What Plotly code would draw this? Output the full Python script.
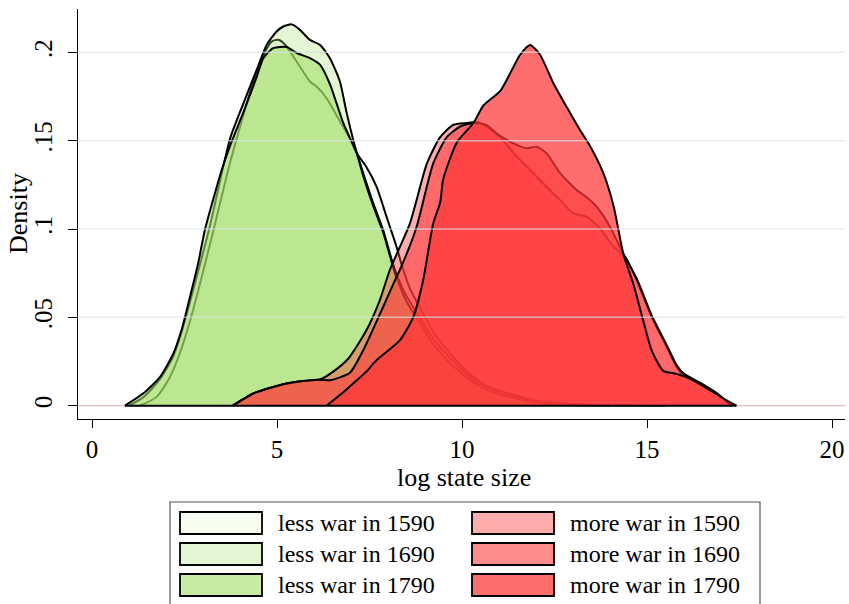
import plotly.graph_objects as go

# ---------------- data ----------------
less_1590_x = [1.3, 1.75, 2.1, 2.38, 2.65, 2.87, 3.1, 3.28, 3.7, 4.1, 4.4, 4.68, 4.86, 5.04, 5.22, 5.53, 5.89, 6.07, 6.34, 6.7, 7.0, 7.15, 7.42, 7.69, 7.96, 8.23, 8.41, 8.6, 8.9, 9.25, 9.7, 10.15, 10.7, 11.5, 12.1, 13.0, 14.0, 15.5]
less_1590_y = [0, 0.005, 0.016, 0.030, 0.048, 0.065, 0.084, 0.099, 0.135, 0.165, 0.186, 0.2005, 0.2062, 0.2071, 0.2043, 0.1948, 0.1835, 0.1806, 0.174, 0.161, 0.150, 0.143, 0.135, 0.124, 0.107, 0.090, 0.077, 0.066, 0.054, 0.041, 0.029, 0.019, 0.011, 0.0055, 0.0025, 0.001, 0.0003, 0]

less_1690_x = [1.0, 1.4, 1.84, 2.2, 2.47, 2.92, 3.19, 3.73, 4.09, 4.45, 4.72, 4.99, 5.17, 5.4, 5.62, 5.89, 6.16, 6.43, 6.7, 6.88, 7.11, 7.33, 7.6, 7.87, 8.05, 8.19, 8.5, 8.86, 9.22, 9.68, 10.13, 10.67, 11.48, 12.1, 13.0, 14.0]
less_1690_y = [0, 0.005, 0.015, 0.028, 0.045, 0.080, 0.102, 0.151, 0.171, 0.190, 0.2042, 0.2118, 0.2146, 0.2158, 0.2127, 0.207, 0.2042, 0.1967, 0.1835, 0.166, 0.1466, 0.1316, 0.1146, 0.0994, 0.0862, 0.0768, 0.062, 0.050, 0.038, 0.027, 0.018, 0.0105, 0.005, 0.002, 0.0008, 0]

less_1790_x = [0.89, 1.39, 1.84, 2.2, 2.42, 2.65, 2.87, 3.05, 3.5, 3.73, 4.09, 4.45, 4.63, 4.9, 5.26, 5.53, 5.89, 6.16, 6.43, 6.79, 7.15, 7.33, 7.6, 7.87, 8.05, 8.19, 8.5, 8.86, 9.22, 9.68, 10.13, 10.67, 11.48, 12.1, 13.0, 13.8]
less_1790_y = [0, 0.007, 0.0163, 0.0296, 0.0428, 0.0617, 0.0806, 0.0994, 0.133, 0.147, 0.166, 0.186, 0.1967, 0.2024, 0.203, 0.1996, 0.1967, 0.193, 0.182, 0.160, 0.143, 0.130, 0.113, 0.098, 0.085, 0.075, 0.059, 0.047, 0.035, 0.024, 0.016, 0.009, 0.004, 0.0015, 0.0005, 0]

more_1590_x = [3.8, 4.36, 4.8, 5.26, 5.7, 6.16, 6.5, 6.93, 7.42, 7.78, 8.05, 8.59, 9.05, 9.41, 9.77, 10.13, 10.4, 10.58, 11.03, 11.48, 12.02, 12.47, 12.65, 13.0, 13.37, 13.73, 14.09, 14.41, 14.72, 15.13, 15.54, 15.8, 15.94, 16.43, 16.89, 17.24]
more_1590_y = [0, 0.0069, 0.010, 0.0126, 0.014, 0.0148, 0.019, 0.0267, 0.0428, 0.0598, 0.0768, 0.103, 0.137, 0.152, 0.159, 0.160, 0.1605, 0.159, 0.152, 0.141, 0.1296, 0.120, 0.1164, 0.109, 0.107, 0.1004, 0.090, 0.0843, 0.071, 0.050, 0.033, 0.022, 0.018, 0.0126, 0.0069, 0]

more_1690_x = [3.8, 4.36, 4.8, 5.26, 5.7, 6.16, 6.43, 6.97, 7.33, 7.87, 8.19, 8.32, 8.77, 9.22, 9.59, 9.95, 10.31, 10.66, 10.94, 11.39, 11.75, 12.02, 12.29, 12.65, 13.1, 13.37, 13.64, 14.0, 14.36, 14.72, 15.13, 15.54, 15.8, 16.0, 16.43, 16.89, 17.3]
more_1690_y = [0, 0.0069, 0.010, 0.0126, 0.014, 0.0147, 0.0144, 0.0186, 0.0314, 0.056, 0.0711, 0.0768, 0.101, 0.137, 0.152, 0.158, 0.160, 0.1589, 0.154, 0.1485, 0.1457, 0.1466, 0.1428, 0.1316, 0.122, 0.118, 0.1126, 0.1013, 0.086, 0.072, 0.051, 0.034, 0.023, 0.018, 0.013, 0.007, 0]

more_1790_x = [6.34, 6.7, 7.06, 7.4, 7.69, 8.32, 8.68, 8.95, 9.22, 9.41, 9.49, 9.86, 10.31, 10.58, 11.03, 11.3, 11.57, 11.84, 12.11, 12.47, 12.83, 13.19, 13.46, 13.82, 14.1, 14.36, 14.63, 14.9, 15.13, 15.44, 15.8, 16.25, 16.7, 17.15, 17.42]
more_1790_y = [0, 0.006, 0.0126, 0.019, 0.0258, 0.037, 0.050, 0.071, 0.103, 0.115, 0.128, 0.149, 0.160, 0.170, 0.178, 0.188, 0.1986, 0.2042, 0.1986, 0.1825, 0.169, 0.156, 0.147, 0.1316, 0.1127, 0.086, 0.069, 0.048, 0.031, 0.0197, 0.018, 0.0144, 0.0088, 0.003, 0]

series_names = ["less war in 1590", "less war in 1690", "less war in 1790",
                "more war in 1590", "more war in 1690", "more war in 1790"]
series_x = [less_1590_x, less_1690_x, less_1790_x, more_1590_x, more_1690_x, more_1790_x]
series_y = [less_1590_y, less_1690_y, less_1790_y, more_1590_y, more_1690_y, more_1790_y]

x_tick_vals = [0, 5, 10, 15, 20]
y_tick_vals = [0, 0.05, 0.1, 0.15, 0.2]
y_tick_text = ["0", ".05", ".1", ".15", ".2"]

# ---------------- styling ----------------
fills = ["rgba(163,223,107,0.10)", "rgba(163,223,107,0.30)", "rgba(163,223,107,0.60)",
         "rgba(255,55,55,0.415)", "rgba(255,55,55,0.575)", "rgba(255,55,55,0.725)"]
FONT = "Liberation Serif, Times New Roman, serif"

W, H = 849, 604
L, R, T, B = 78, 4, 9, 185
PW, PH = W - L - R, H - T - B


def px2x(px):
    return (px - L) / PW


def py2y(py):
    return (H - B - py) / PH


fig = go.Figure()
for name, xs, ys, fc in zip(series_names, series_x, series_y, fills):
    fig.add_trace(go.Scatter(
        x=xs, y=ys, name=name, mode="lines", fill="tozeroy", fillcolor=fc,
        line=dict(color="black", width=2, shape="spline", smoothing=0.6),
        showlegend=False, hoverinfo="skip"))

shapes = []
# gridlines drawn over the areas (light, translucent)
for v in y_tick_vals:
    shapes.append(dict(type="line", xref="paper", yref="y", x0=0, x1=1, y0=v, y1=v,
                       line=dict(color="rgba(215,228,233,0.65)", width=1.5), layer="above"))
# baseline of the areas
all_x = [v for xs in series_x for v in xs]
shapes.append(dict(type="line", xref="paper", yref="y", x0=0, x1=1, y0=0, y1=0,
                   line=dict(color="rgba(240,160,160,0.8)", width=1), layer="above"))
shapes.append(dict(type="line", xref="x", yref="y", x0=min(all_x), x1=max(all_x), y0=0, y1=0,
                   line=dict(color="black", width=2), layer="above"))

# legend box
shapes.append(dict(type="rect", xref="paper", yref="paper",
                   x0=px2x(170), x1=px2x(760), y0=py2y(612), y1=py2y(502),
                   line=dict(color="#555555", width=1.2), fillcolor="white"))
annotations = []
row_c = [523, 554, 585]
col_sw = [(180, 262), (472, 554)]
col_tx = [276, 568]
for i, (name, fc) in enumerate(zip(series_names, fills)):
    col, row = divmod(i, 3)
    c = row_c[row]
    shapes.append(dict(type="rect", xref="paper", yref="paper",
                       x0=px2x(col_sw[col][0]), x1=px2x(col_sw[col][1]),
                       y0=py2y(c + 11), y1=py2y(c - 11),
                       line=dict(color="black", width=1.8), fillcolor=fc))
    annotations.append(dict(xref="paper", yref="paper", x=px2x(col_tx[col]), y=py2y(c),
                            text=name, showarrow=False, xanchor="left", yanchor="middle",
                            font=dict(family=FONT, size=24, color="black")))

annotations.append(dict(xref="paper", yref="paper", x=px2x(464), y=py2y(478),
                        text="log state size", showarrow=False, xanchor="center", yanchor="middle",
                        font=dict(family=FONT, size=26, color="black")))
annotations.append(dict(xref="paper", yref="paper", x=px2x(18), y=py2y(214),
                        text="Density", showarrow=False, textangle=-90,
                        xanchor="center", yanchor="middle",
                        font=dict(family=FONT, size=26, color="black")))

fig.update_layout(
    width=W, height=H, margin=dict(l=L, r=R, t=T, b=B, pad=0),
    paper_bgcolor="white", plot_bgcolor="white",
    shapes=shapes, annotations=annotations, showlegend=False,
    font=dict(family=FONT, size=25, color="black"),
)
fig.update_xaxes(range=[(L - 92) / 37, (W - R - 92) / 37], tickvals=x_tick_vals,
                 showgrid=False, zeroline=False, showline=True, linecolor="black", linewidth=1.3,
                 ticks="outside", ticklen=8, tickwidth=1.3, tickcolor="black",
                 tickfont=dict(family=FONT, size=25, color="black"))
fig.update_yaxes(range=[(405.7 - (H - B)) / 1767, (405.7 - T) / 1767],
                 tickvals=y_tick_vals, ticktext=y_tick_text, tickangle=-90,
                 showgrid=False, zeroline=False, showline=True, linecolor="black", linewidth=1.3,
                 ticks="outside", ticklen=9, tickwidth=1.3, tickcolor="black",
                 ticklabelstandoff=6,
                 tickfont=dict(family=FONT, size=25, color="black"))

fig.write_html("out.html", config={"displayModeBar": False},
               post_script="document.body.style.margin='0px';document.body.style.overflow='hidden';")
